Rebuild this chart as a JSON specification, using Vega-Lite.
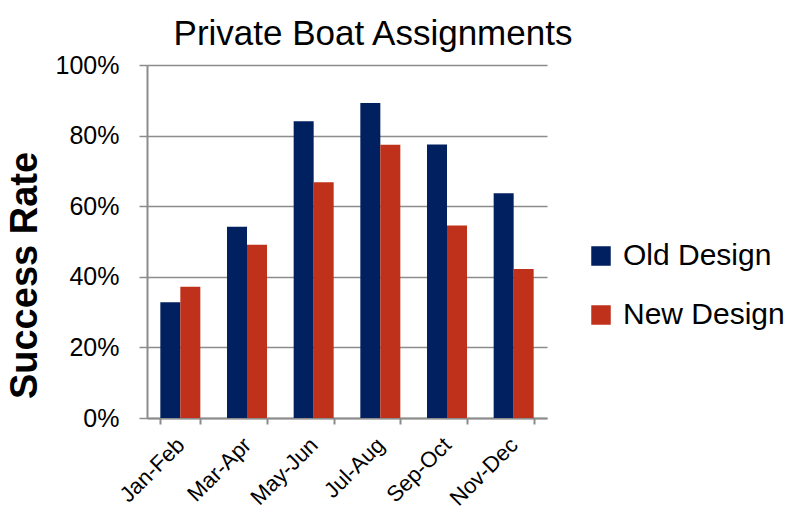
{
  "$schema": "https://vega.github.io/schema/vega-lite/v6.json",
  "width": 400,
  "height": 353,
  "autosize": {"type": "none"},
  "padding": {"left": 147, "top": 65, "right": 241, "bottom": 94},
  "background": "white",
  "title": {
    "text": "Private Boat Assignments",
    "fontSize": 35,
    "font": "Liberation Sans",
    "fontWeight": "normal",
    "color": "black",
    "anchor": "middle",
    "dx": 26,
    "dy": 44,
    "baseline": "bottom",
    "offset": 10
  },
  "data": {
    "values": [
      {"period": "Jan-Feb", "series": "Old Design", "rate": 0.328},
      {"period": "Jan-Feb", "series": "New Design", "rate": 0.372},
      {"period": "Mar-Apr", "series": "Old Design", "rate": 0.542},
      {"period": "Mar-Apr", "series": "New Design", "rate": 0.491},
      {"period": "May-Jun", "series": "Old Design", "rate": 0.841},
      {"period": "May-Jun", "series": "New Design", "rate": 0.668},
      {"period": "Jul-Aug", "series": "Old Design", "rate": 0.892},
      {"period": "Jul-Aug", "series": "New Design", "rate": 0.774},
      {"period": "Sep-Oct", "series": "Old Design", "rate": 0.775},
      {"period": "Sep-Oct", "series": "New Design", "rate": 0.545},
      {"period": "Nov-Dec", "series": "Old Design", "rate": 0.637},
      {"period": "Nov-Dec", "series": "New Design", "rate": 0.422}
    ]
  },
  "mark": {"type": "bar"},
  "encoding": {
    "x": {
      "field": "period",
      "type": "nominal",
      "sort": ["Jan-Feb", "Mar-Apr", "May-Jun", "Jul-Aug", "Sep-Oct", "Nov-Dec"],
      "scale": {"paddingInner": 0.4, "paddingOuter": 0.2},
      "axis": {
        "title": null,
        "labelAngle": -45,
        "labelFontSize": 22,
        "labelFont": "Liberation Sans",
        "labelColor": "black",
        "domainColor": "#8c8c8c",
        "domainWidth": 2,
        "tickColor": "#8c8c8c",
        "tickWidth": 2,
        "tickSize": 6,
        "tickBand": "extent",
        "grid": false,
        "labelPadding": 10,
        "labelOffset": -7
      }
    },
    "xOffset": {"field": "series", "sort": ["Old Design", "New Design"]},
    "y": {
      "field": "rate",
      "type": "quantitative",
      "scale": {"domain": [0, 1]},
      "axis": {
        "values": [0, 0.2, 0.4, 0.6, 0.8, 1],
        "format": ".0%",
        "labelFontSize": 25,
        "labelFont": "Liberation Sans",
        "labelColor": "black",
        "grid": true,
        "gridColor": "#8c8c8c",
        "gridWidth": 1.5,
        "domainColor": "#8c8c8c",
        "domainWidth": 2,
        "tickColor": "#8c8c8c",
        "tickWidth": 1.5,
        "tickSize": 8,
        "labelPadding": 20,
        "title": "Success Rate",
        "titleFont": "Liberation Sans",
        "titleFontSize": 38,
        "titleFontWeight": "bold",
        "titleColor": "black",
        "titleX": -122,
        "titleY": 210,
        "titleAlign": "center",
        "titleBaseline": "middle",
        "titleAngle": -90
      }
    },
    "color": {
      "field": "series",
      "type": "nominal",
      "scale": {"domain": ["Old Design", "New Design"], "range": ["#00205F", "#BF311A"]},
      "legend": {
        "orient": "none",
        "legendX": 439,
        "legendY": 176,
        "title": null,
        "symbolType": "square",
        "symbolSize": 380,
        "symbolStrokeWidth": 0,
        "labelFontSize": 30,
        "labelFont": "Liberation Sans",
        "labelColor": "black",
        "labelOffset": 7,
        "labelLimit": 0,
        "rowPadding": 29
      }
    }
  },
  "config": {"view": {"stroke": null}}
}
